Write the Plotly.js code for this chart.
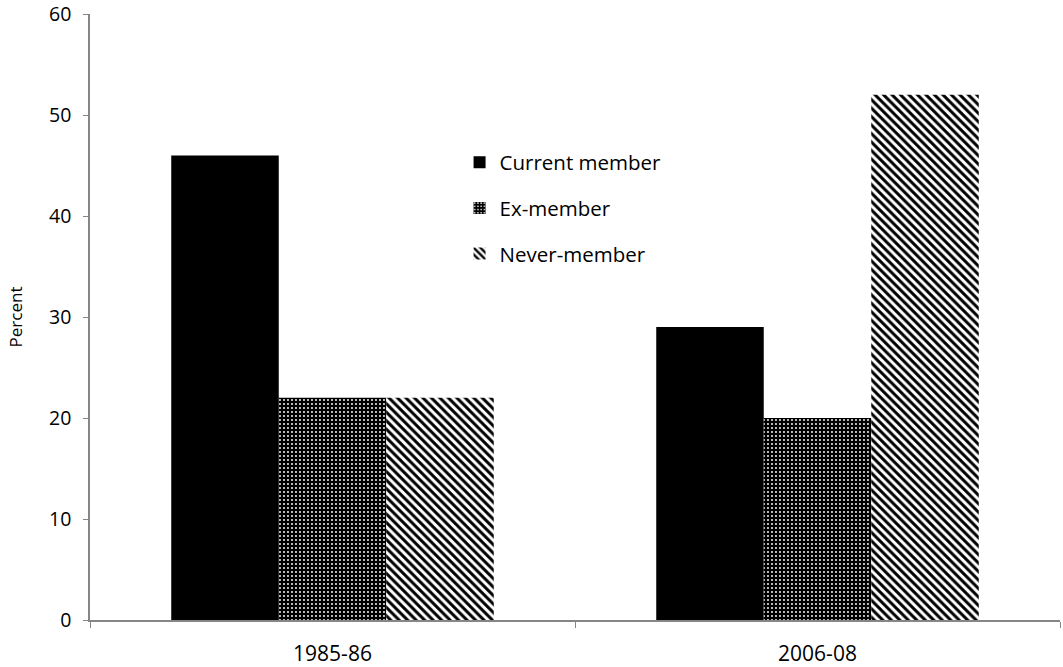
<!DOCTYPE html>
<html><head><meta charset="utf-8">
<script src="https://cdn.plot.ly/plotly-3.0.1.min.js"></script>
<style>body{margin:0;background:#fff}#c{width:1063px;height:667px}</style>
</head><body><div id="c"></div>
<script>
var categories = ["1985-86", "2006-08"];
var currentMember = [46, 29];
var exMember = [22, 20];
var neverMember = [22, 52];
var yTicks = [0, 10, 20, 30, 40, 50, 60];

var FONT = "Open Sans, Liberation Sans, sans-serif";
var traces = [
  {type:"bar", name:"Current member", x:categories, y:currentMember, legendgroup:"a",
   marker:{color:"#000000", line:{width:0}}},
  {type:"bar", name:"Ex-member", x:categories, y:exMember, legendgroup:"b",
   marker:{color:"#000000", line:{width:0},
     pattern:{shape:".", fgcolor:"#ffffff", bgcolor:"#000000", size:4, solidity:0.18, fillmode:"replace"}}},
  {type:"bar", name:"Never-member", x:categories, y:neverMember, legendgroup:"c",
   marker:{color:"#000000", line:{width:0},
     pattern:{shape:"\\", fgcolor:"#000000", bgcolor:"#ffffff", size:6, solidity:0.5}}}
];
var layout = {
  width:1063, height:667,
  margin:{l:90, r:3, t:14, b:47},
  paper_bgcolor:"#fff", plot_bgcolor:"#fff",
  barmode:"group", bargap:0.335, bargroupgap:0,
  font:{family:FONT, color:"#000", size:16},
  showlegend:true,
  legend:{x:0.381, y:0.788, xanchor:"left", yanchor:"top", bgcolor:"rgba(0,0,0,0)",
    font:{size:20.5, family:FONT}, tracegroupgap:16, itemwidth:30},
  xaxis:{type:"category", showline:true, linecolor:"#868686", linewidth:1.5, ticks:"outside",
    ticklen:6, tickcolor:"#868686", tickson:"boundaries", showgrid:false,
    tickfont:{size:21}, zeroline:false, ticklabelstandoff:14},
  yaxis:{range:[0,60], tickvals:yTicks, showline:true, linecolor:"#868686",
    linewidth:1.5, ticks:"outside", ticklen:5, tickcolor:"#868686", showgrid:false,
    zeroline:false, tickfont:{size:19.5}, ticklabelstandoff:8, ticklabeloverflow:"allow",
    title:{text:"Percent", font:{size:17}, standoff:22}}
};
Plotly.newPlot("c", traces, layout, {displayModeBar:false});
</script></body></html>
